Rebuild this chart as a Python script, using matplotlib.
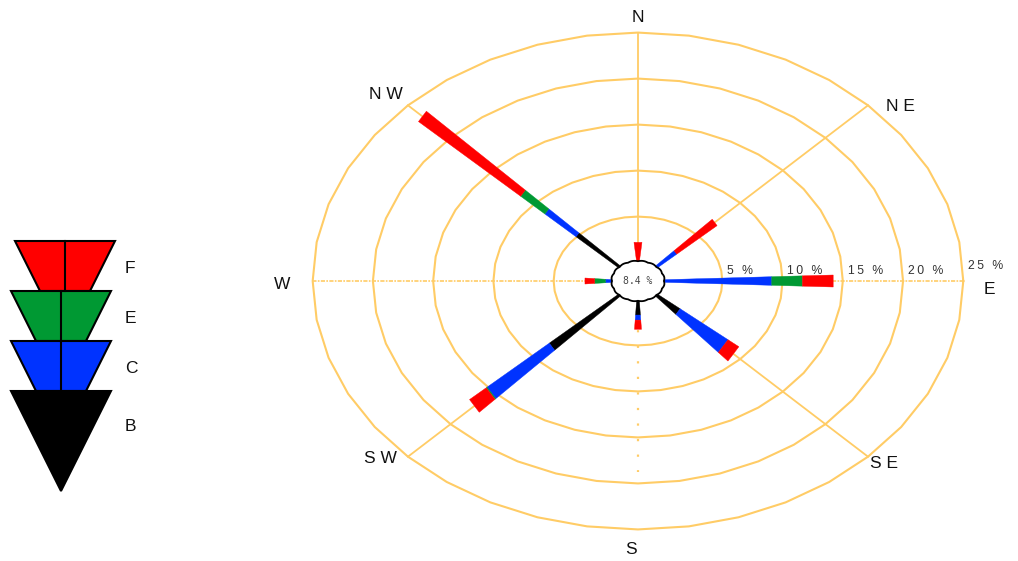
import numpy as np
import matplotlib
matplotlib.use("Agg")
import matplotlib.pyplot as plt
from matplotlib.patches import Polygon

# === DATA ===
directions = ["N", "NE", "E", "SE", "S", "SW", "W", "NW"]
dir_labels = ["N", "N E", "E", "S E", "S", "S W", "W", "N W"]
dir_angles = [90, 45, 0, -45, -90, -135, 180, 135]

# percent per stability class, stacked outward B -> C -> E -> F
cls_B = [0.0, 0.0, 0.0, 2.7, 1.7, 8.1, 0.0, 5.1]
cls_C = [0.0, 2.4, 9.1, 5.3, 0.55, 7.1, 0.7, 3.6]
cls_E = [0.0, 0.0, 2.55, 0.0, 0.0, 0.1, 0.9, 2.8]
cls_F = [2.2, 4.6, 2.55, 1.2, 1.0, 1.9, 0.8, 11.8]
class_names = ["F", "E", "C", "B"]
calm_pct = 8.4
ring_pcts = [5, 10, 15, 20, 25]

# === STYLE ===
class_colors = {"B": "#000000", "C": "#0033FF", "E": "#009933", "F": "#FF0000"}
ring_color = "#FFCC66"
tip_width = [8, 8, 12, 18, 7, 16, 6, 13]   # px at bar end
start_width = 2.5                          # px at calm circle
CALM_R = 2.0
OUTER = CALM_R + ring_pcts[-1]
# label placement (u, v) in plot units
label_pos = {"N": (0, 28.6), "N E": (21.8, 19.0), "E": (29.2, -0.9),
             "S E": (20.4, -19.8), "S": (-0.6, -29.2), "S W": (-21.4, -19.3),
             "W": (-29.5, -0.4), "N W": (-20.9, 20.3)}

plt.rcParams["font.family"] = ["Liberation Sans", "DejaVu Sans"]

fig = plt.figure(figsize=(10.18, 5.61), dpi=100, facecolor="white")
ax = fig.add_axes([0, 0, 1, 1])
ax.set_xlim(-52.95, 31.54)
ax.set_ylim(-30.43, 30.54)
ax.axis("off")


def xy(r, deg):
    t = np.deg2rad(deg)
    return r * np.cos(t), r * np.sin(t)


def spaced(s):
    return "\u2009".join(s)


# rings (slightly faceted like the original)
t = np.linspace(0, 2 * np.pi, 41)
for p in ring_pcts:
    r = CALM_R + p
    ax.plot(r * np.cos(t), r * np.sin(t), color=ring_color, lw=1.5, zorder=1)

# radial lines
for name, ang in zip(directions, dir_angles):
    x0, y0 = xy(CALM_R, ang)
    x1, y1 = xy(OUTER, ang)
    if name in ("E", "W"):
        ax.plot([x0, x1], [y0, y1], color=ring_color, lw=1.2,
                dashes=(2.5, 0.8, 1, 0.8), zorder=1)
    elif name == "S":
        x1, y1 = xy(20.8, ang)
        ax.plot([x0, x1], [y0, y1], color=ring_color, lw=1.6,
                dashes=(1, 6), dash_capstyle="butt", zorder=1)
    else:
        ax.plot([x0, x1], [y0, y1], color=ring_color, lw=1.3, zorder=1)

# bars
tr = ax.transData
inv = tr.inverted()


def seg_poly(ang, r0, r1, w0, w1):
    p0 = tr.transform(xy(r0, ang))
    p1 = tr.transform(xy(r1, ang))
    d = p1 - p0
    d = d / np.hypot(*d)
    n = np.array([-d[1], d[0]])
    pts = [p0 + n * w0 / 2, p1 + n * w1 / 2, p1 - n * w1 / 2, p0 - n * w0 / 2]
    return inv.transform(np.array(pts))


for i, ang in enumerate(dir_angles):
    vals = [("B", cls_B[i]), ("C", cls_C[i]), ("E", cls_E[i]), ("F", cls_F[i])]
    total = sum(v for _, v in vals)
    cum = 0.0
    for cname, v in vals:
        if v <= 0:
            continue
        f0 = cum / total
        f1 = (cum + v) / total
        w0 = start_width + (tip_width[i] - start_width) * f0
        w1 = start_width + (tip_width[i] - start_width) * f1
        poly = seg_poly(ang, CALM_R + cum, CALM_R + cum + v, w0, w1)
        ax.add_patch(Polygon(poly, closed=True, facecolor=class_colors[cname],
                             edgecolor=class_colors[cname], lw=0.3, zorder=3))
        cum += v

# calm circle
tc = np.linspace(0, 2 * np.pi, 400)
rc = 2.15 + 0.07 * np.abs(np.sin(8 * tc))
ax.fill(rc * np.cos(tc), rc * np.sin(tc), facecolor="white",
        edgecolor="black", lw=1.3, zorder=4)
ax.text(0, 0, f"{calm_pct} %", ha="center", va="center", fontsize=7,
        family="DejaVu Sans Mono", color="#444444", zorder=5)

# ring labels
for p in ring_pcts:
    r = CALM_R + p
    dy = 1.6 if p == ring_pcts[-1] else 1.05
    ax.text(r + 0.4, dy, spaced(f"{p} %"), ha="left", va="center",
            fontsize=8.8, color="#333333", zorder=5)

# direction labels
for lab in dir_labels:
    x, y = label_pos[lab]
    ax.text(x, y, lab, ha="center", va="center", fontsize=12.5,
            color="#111111", zorder=5)

# legend
lax = fig.add_axes([0, 0, 160 / 1018, 1])
lax.set_xlim(0, 160)
lax.set_ylim(561, 0)
lax.axis("off")

top_y = 241
h_trap = 50
half_top = 50
half_bot = 25
for k, cname in enumerate(class_names):
    cx = 65 if cname == "F" else 61
    y0 = top_y + k * h_trap
    if cname == "B":
        shape = [(cx - half_top, y0), (cx + half_top, y0), (cx, y0 + 2 * h_trap)]
        ymid = y0 + 0.7 * h_trap
    else:
        y1 = y0 + h_trap
        shape = [(cx - half_top, y0), (cx + half_top, y0),
                 (cx + half_bot, y1), (cx - half_bot, y1)]
        lax.plot([cx, cx], [y0, y1], color="black", lw=1.5, zorder=3)
        ymid = y0 + 0.55 * h_trap
    lax.add_patch(Polygon(shape, closed=True, facecolor=class_colors[cname],
                          edgecolor="black", lw=1.5, zorder=2))
    lax.text(125, ymid, cname, ha="left", va="center", fontsize=12.5,
             color="#111111")

plt.savefig("out.png", dpi=100, facecolor="white")
plt.close()
